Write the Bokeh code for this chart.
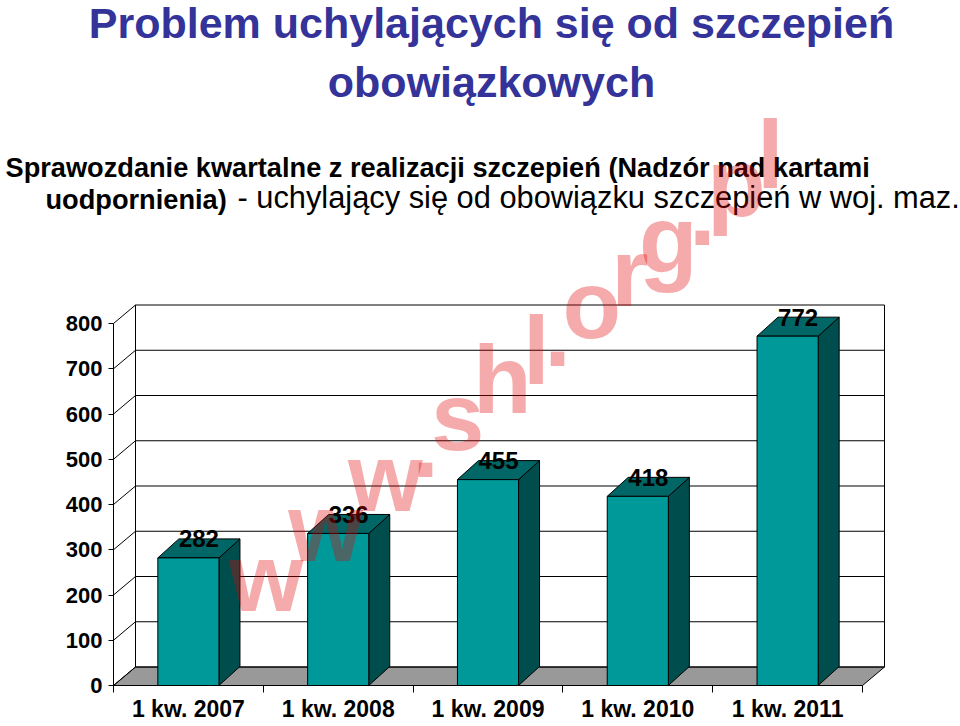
import math
from bokeh.plotting import figure
from bokeh.models import Range1d, FixedTicker, LabelSet, ColumnDataSource
from bokeh.core.properties import value
from bokeh.embed import file_html
from bokeh.resources import INLINE

# ---------------- data ----------------
categories = ["1 kw. 2007", "1 kw. 2008", "1 kw. 2009", "1 kw. 2010", "1 kw. 2011"]
values = [282, 336, 455, 418, 772]
y_ticks = [0, 100, 200, 300, 400, 500, 600, 700, 800]
title_lines = ["Problem uchylających się od szczepień", "obowiązkowych"]
subtitle_bold_1 = "Sprawozdanie kwartalne z realizacji szczepień (Nadzór nad kartami"
subtitle_bold_2 = "uodpornienia)"
subtitle_regular_2 = "- uchylający się od obowiązku szczepień w woj. maz."
watermark = "www.shl.org.pl"

# ---------------- geometry ----------------
W, H = 960, 726
OX, OY = 113, 685            # pixel of the chart origin (left category edge, value 0)
PX_CAT = 149.8               # pixels per category
PX_VAL = 0.4525              # pixels per value unit
n = len(categories)
X0 = -0.5                    # data x of left category edge (category i centred at i)
x_start = X0 - OX / PX_CAT
x_end = X0 + (W - OX) / PX_CAT
y_start = -(H - OY) / PX_VAL
y_end = OY / PX_VAL


def X(px):
    return X0 + (px - OX) / PX_CAT


def Y(py):
    return (OY - py) / PX_VAL


WDX, WDY = 22 / PX_CAT, 18.5 / PX_VAL     # wall depth
BDX, BDY = 21 / PX_CAT, 19 / PX_VAL       # bar depth
HW = 0.204                                # bar half width
XL, XR = X0, X0 + n
YMAX = y_ticks[-1]

SANS = "Liberation Sans"

p = figure(width=W, height=H, x_range=Range1d(x_start, x_end), y_range=Range1d(y_start, y_end),
           output_backend="svg", toolbar_location=None,
           min_border_left=0, min_border_right=0, min_border_top=0, min_border_bottom=0)
p.grid.visible = False
p.outline_line_color = None
p.background_fill_color = "white"
p.border_fill_color = "white"

# floor
p.patch([XL, XR, XR + WDX, XL + WDX], [0, 0, WDY, WDY],
        fill_color="#999999", line_color="black", line_width=1)
# back-wall gridlines and left-wall diagonals
p.segment(x0=[XL + WDX] * len(y_ticks), y0=[t + WDY for t in y_ticks],
          x1=[XR + WDX] * len(y_ticks), y1=[t + WDY for t in y_ticks],
          line_color="black", line_width=1)
p.segment(x0=[XL] * len(y_ticks), y0=y_ticks,
          x1=[XL + WDX] * len(y_ticks), y1=[t + WDY for t in y_ticks],
          line_color="black", line_width=1)
p.segment(x0=[XL + WDX, XR + WDX], y0=[WDY, WDY], x1=[XL + WDX, XR + WDX], y1=[YMAX + WDY] * 2,
          line_color="black", line_width=1)

# bars
cx = list(range(n))
side_xs = [[c + HW, c + HW + BDX, c + HW + BDX, c + HW] for c in cx]
side_ys = [[0, BDY, v + BDY, v] for v in values]
top_xs = [[c - HW, c + HW, c + HW + BDX, c - HW + BDX] for c in cx]
top_ys = [[v, v, v + BDY, v + BDY] for v in values]
p.patches(side_xs, side_ys, fill_color="#004d4d", line_color="black", line_width=1)
p.patches(top_xs, top_ys, fill_color="#006666", line_color="black", line_width=1)
p.quad(left=[c - HW for c in cx], right=[c + HW for c in cx], bottom=0, top=values,
       fill_color="#009999", line_color="black", line_width=1)

# value labels
p.text(x=[c + BDX / 2 for c in cx], y=[v + BDY for v in values], text=[str(v) for v in values],
       text_align="center", text_baseline="middle", text_font=value(SANS),
       text_font_style="bold", text_font_size="24px", text_color="black")

# axes
ya = p.yaxis[0]
ya.fixed_location = X0
ya.ticker = FixedTicker(ticks=y_ticks)
ya.bounds = (0, YMAX)
ya.axis_line_color = "black"
ya.major_tick_out = 5
ya.major_tick_in = 0
ya.minor_tick_out = 0
ya.minor_tick_in = 0
ya.major_label_standoff = 6
ya.major_label_text_font = SANS
ya.major_label_text_font_style = "bold"
ya.major_label_text_font_size = "22px"
ya.major_label_text_color = "black"

xa = p.xaxis[0]
xa.fixed_location = 0
xa.ticker = FixedTicker(ticks=cx, minor_ticks=[X0 + i for i in range(n + 1)])
xa.major_label_overrides = {i: c for i, c in enumerate(categories)}
xa.bounds = (XL, XR)
xa.axis_line_color = "black"
xa.major_tick_out = 0
xa.major_tick_in = 0
xa.minor_tick_out = 7
xa.minor_tick_in = 0
xa.major_label_standoff = 3
xa.major_label_text_font = SANS
xa.major_label_text_font_style = "bold"
xa.major_label_text_font_size = "23px"
xa.major_label_text_color = "black"

# titles (text glyphs, vertically centred on the em box)
p.text(x=[X(491), X(491)], y=[Y(22.5), Y(81.5)], text=title_lines, text_align="center",
       text_baseline="middle", text_font=value(SANS), text_font_style="bold",
       text_font_size="43px", text_color="#333399")
p.text(x=[X(5), X(45)], y=[Y(167.1), Y(198.6)], text=[subtitle_bold_1, subtitle_bold_2],
       text_align="left", text_baseline="middle", text_font=value(SANS),
       text_font_style="bold", text_font_size="27.2px", text_color="black")
p.text(x=[X(237)], y=[Y(197.3)], text=[subtitle_regular_2], text_align="left",
       text_baseline="middle", text_font=value(SANS), text_font_style="normal",
       text_font_size="30.8px", text_color="black")

# watermark: letters laid out along a 40 degree diagonal (translucent, on top)
ADV = {"w": 0.778, ".": 0.278, "s": 0.556, "h": 0.611, "l": 0.278,
       "o": 0.611, "r": 0.389, "g": 0.611, "p": 0.611}
WM_SIZE = 96
WM_ANGLE = math.radians(40)
WM_X, WM_Y = 255, 625          # start of the watermark baseline (pixels)
ca, sa = math.cos(WM_ANGLE), math.sin(WM_ANGLE)
up = 0.30 * 100                # lift from baseline to letter middle
wx, wy, acc = [], [], 0.0
for ch in watermark:
    s = (acc + ADV[ch] / 2) * 100
    px = WM_X + s * ca - up * sa
    py = WM_Y - s * sa - up * ca
    wx.append(X(px))
    wy.append(Y(py))
    acc += ADV[ch]
wm_src = ColumnDataSource(dict(x=wx, y=wy, t=list(watermark)))
p.add_layout(LabelSet(x="x", y="y", text="t", source=wm_src, text_align="center",
                      text_baseline="middle", text_font=value(SANS), text_font_style="bold",
                      text_font_size=f"{WM_SIZE}px", text_color="#e00000", text_alpha=0.33))

open("out.html", "w").write(file_html(p, INLINE))
